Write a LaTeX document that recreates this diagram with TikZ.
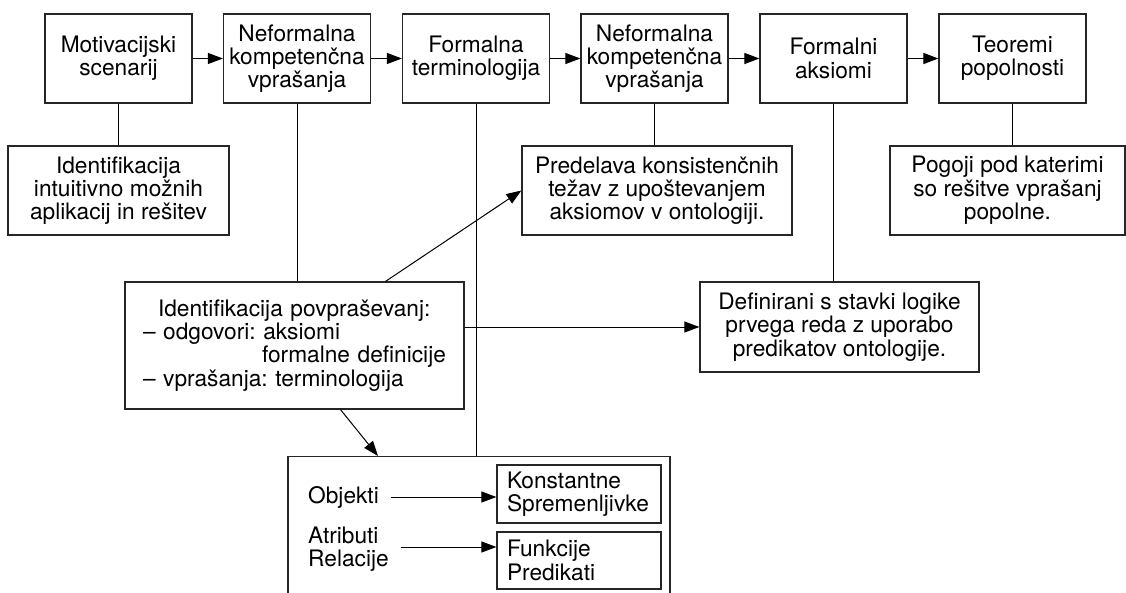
\documentclass[tikz,border=0pt]{standalone}
\usepackage{fontspec}
\setmainfont{TeX Gyre Heros}
\usetikzlibrary{arrows.meta}
\frenchspacing
\tikzset{
  box/.style={draw=black!85, line width=1.2pt, rectangle, inner sep=0pt, align=center,
    font=\fontsize{22.7}{23.3}\selectfont},
  topbox/.style={box, minimum width=147pt, minimum height=89pt},
  subbox/.style={box, minimum height=89pt},
  smallbox/.style={box, minimum width=164pt, align=left, text width=144pt, inner xsep=10pt},
  plain/.style={inner sep=0pt, align=left, font=\fontsize{22.7}{23.3}\selectfont},
  conn/.style={line width=1pt, draw=black},
  arr/.style={conn, -{Triangle[length=15pt,width=11pt]}},
}
\begin{document}
\begin{tikzpicture}[x=1pt,y=-1pt]
\useasboundingbox (0,0) rectangle (1126,593);
\fill[white] (0,0) rectangle (1126,593);
\clip (0,0) rectangle (1126,593);

% top row
\node[topbox] (B1) at (118.5,58.5) {Motivacijski\\scenarij};
\node[topbox] (B2) at (297,58.5) {Neformalna\\kompetenčna\\vprašanja};
\node[topbox] (B3) at (476,58.5) {Formalna\\terminologija};
\node[topbox] (B4) at (654.5,58.5) {Neformalna\\kompetenčna\\vprašanja};
\node[topbox] (B5) at (833.5,58.5) {Formalni\\aksiomi};
\node[topbox] (B6) at (1012.5,58.5) {Teoremi\\popolnosti};

% second row
\node[subbox, minimum width=221pt] (S1) at (118.5,190.5) {Identifikacija\\intuitivno možnih\\aplikacij in rešitev};
\node[subbox, minimum width=270pt] (S4) at (657,190.5) {Predelava konsistenčnih\\težav z upoštevanjem\\aksiomov v ontologiji.};
\node[subbox, minimum width=235pt] (S6) at (1007.5,190.5) {Pogoji pod katerimi\\so rešitve vprašanj\\popolne.};

% middle
\node[box, align=left, text width=303pt, inner xsep=18pt, minimum height=127pt] (I) at (294.5,345.5)
  {\hspace*{15pt}Identifikacija povpraševanj:\\
   – odgovori: aksiomi\\
   \hspace*{119pt}\mbox{formalne definicije}\\
   – vprašanja: terminologija};
\node[box, minimum width=279pt, minimum height=90pt] (D) at (839.5,327)
  {Definirani s stavki logike\\prvega reda z uporabo\\predikatov ontologije.};

% bottom box (open at the bottom edge of the picture)
\node[box, minimum width=382pt, minimum height=200pt, anchor=north] (BB) at (479,456) {};
\node[smallbox, minimum height=58pt] (K) at (579,494) {Konstantne\\Spremenljivke};
\node[smallbox, minimum height=57pt] (F) at (579,560.5) {Funkcije\\Predikati};
\node[plain, anchor=west] (Obj) at (308,497) {Objekti};
\node[plain, anchor=west] (AR) at (308,549) {Atributi\\Relacije};

% top arrows
\draw[arr] (B1.east) -- (B2.west);
\draw[arr] (B2.east) -- (B3.west);
\draw[arr] (B3.east) -- (B4.west);
\draw[arr] (B4.east) -- (B5.west);
\draw[arr] (B5.east) -- (B6.west);

% vertical links
\draw[conn] (B1.south) -- (B1.south |- S1.north);
\draw[conn] (B4.south) -- (B4.south |- S4.north);
\draw[conn] (B6.south) -- (B6.south |- S6.north);
\draw[conn] (B2.south) -- (B2.south |- I.north);
\draw[conn] (B5.south) -- (B5.south |- D.north);
\draw[conn] (B3.south) -- (B3.south |- BB.north);

% arrows from Identifikacija
\coordinate (d1) at ([xshift=91pt]I.north);
\draw[arr] (d1) -- (S4.west);
\draw[arr] (I.east |- D.west) -- (D.west);
\coordinate (d2) at ([xshift=46pt]I.south);
\coordinate (d3) at ([xshift=-101pt]BB.north);
\draw[arr] (d2) -- (d3);

% inside bottom box
\coordinate (o1) at ([xshift=12pt]Obj.east);
\draw[arr] (o1) -- (o1 -| K.west);
\coordinate (a1) at ([xshift=12pt,yshift=2pt]AR.east);
\draw[arr] (a1) -- (a1 -| F.west);
\end{tikzpicture}
\end{document}
